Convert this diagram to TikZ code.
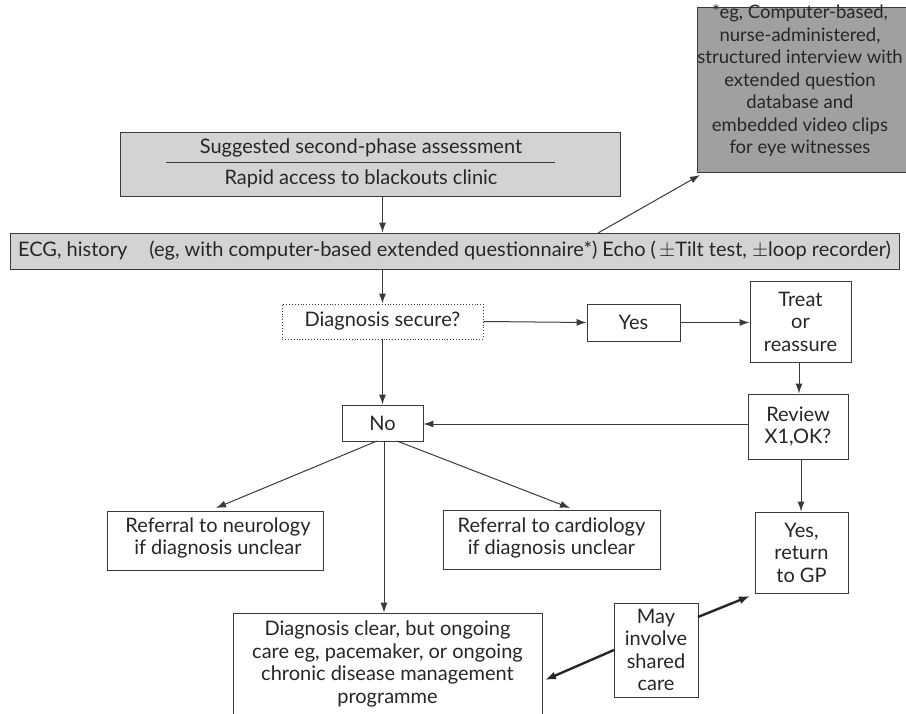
\documentclass[tikz,border=0pt]{standalone}
\usepackage{fontspec}
\setmainfont{Lato}
\usetikzlibrary{arrows.meta,calc}
\definecolor{linecol}{HTML}{3A3A3A}
\definecolor{lightfill}{HTML}{D3D3D5}
\definecolor{darkfill}{HTML}{A0A0A0}
\newcommand{\bodyfont}{\fontsize{20}{22.5}\selectfont}
\newcommand{\notefont}{\fontsize{18.5}{22.5}\selectfont}
\tikzset{
  box/.style={draw=linecol, line width=0.9pt, inner sep=0pt, align=center, font=\bodyfont, text=black!85},
  txt/.style={inner sep=0pt, align=center, font=\bodyfont, text=black!85},
  arr/.style={draw=linecol, line width=1pt, -{Latex[length=10pt,width=7pt]}},
  thickarr/.style={draw=black!85, line width=2.4pt, -{Latex[length=11pt,width=8pt]}}
}
\begin{document}
\begin{tikzpicture}[x=1pt,y=-1pt]
\useasboundingbox (0,0) rectangle (906,714);
\clip (0,0) rectangle (906,714);
% top box
\node[box, fill=lightfill, minimum width=500pt, minimum height=64pt] (top) at (370,164) {};
\node[txt] (t1) at (361,148) {Suggested second-phase assessment};
\node[txt] (t2) at (361,179) {Rapid access to blackouts clinic};
\draw[linecol, line width=0.9pt] (166,162) -- (555,162);
% note box
\node[box, fill=darkfill, minimum width=212pt, minimum height=165pt] (note) at (803,89.5) {};
\node[txt, font=\notefont] (notetext) at (800,81) {*eg, Computer-based,\\nurse-administered,\\structured interview with\\extended question\\database and\\embedded video clips\\for eye witnesses};
% ECG box
\node[box, fill=lightfill, minimum width=889pt, minimum height=36pt] (ecg) at (454.5,251)
  {ECG, history\hspace{1.1em}(eg, with computer-based extended questionnaire*) Echo (\,$\pm$Tilt test, $\pm$loop recorder)};
% decision
\node[box, dotted, minimum width=201pt, minimum height=35pt] (diag) at (382.5,321.5) {Diagnosis secure?};
\node[box, minimum width=93pt, minimum height=37pt] (yes) at (633.5,322.5) {Yes};
\node[box, minimum width=101pt, minimum height=81pt] (treat) at (800.5,321.5) {Treat\\or\\reassure};
\node[box, minimum width=100pt, minimum height=65pt] (review) at (798,426.5) {Review\\X1,OK?};
\node[box, minimum width=81pt, minimum height=36pt] (no) at (382.5,423) {No};
\node[box, minimum width=93pt, minimum height=81pt] (ret) at (801.5,552.5) {Yes,\\return\\to GP};
\node[box, minimum width=216pt, minimum height=59pt] (neuro) at (215,540.5) {};
\node[txt] (neurot) at (218,538) {Referral to neurology\\if diagnosis unclear};
\node[box, minimum width=217pt, minimum height=59pt] (cardio) at (551.5,539.5) {};
\node[txt] (cardiot) at (551.5,538) {Referral to cardiology\\if diagnosis unclear};
\node[box, minimum width=309pt, minimum height=117pt] (clear) at (387.5,671.5) {};
\node[txt] (cleart) at (387.5,664) {Diagnosis clear, but ongoing\\care eg, pacemaker, or ongoing\\chronic disease management\\programme};
\node[box, minimum width=84pt, minimum height=94pt] (may) at (656,650) {May\\involve\\shared\\care};
% coordinates
\coordinate (ecgn) at (598,233);
\coordinate (notetip) at (700,175);
\coordinate (nol) at (377,441);
\coordinate (nor) at (397,441);
\coordinate (neurotip) at (216,508);
\coordinate (cardiotip) at (570,508);
\coordinate (mayl) at (614,650);
\coordinate (cleartip) at (545,680);
\coordinate (mayr) at (698,617);
\coordinate (rettip) at (750,596);
% connectors
\draw[arr] (top.south -| diag.north) -- (ecg.north -| diag.north);
\draw[arr] (ecgn) -- (notetip);
\draw[arr] (ecg.south -| diag.north) -- (diag.north);
\draw[arr] (diag.east) -- (yes.west);
\draw[arr] (yes.east) -- (treat.west |- yes.east);
\draw[arr] (treat.south -| 799,0) -- (review.north -| 799,0);
\draw[arr] (review.west |- 0,424) -- (no.east |- 0,424);
\draw[arr] (review.south -| 801,0) -- (ret.north -| 801,0);
\draw[arr] (diag.south) -- (no.north);
\draw[arr] (nol) -- (neurotip);
\draw[arr] (nor) -- (cardiotip);
\draw[arr] (no.south -| 384,0) -- (clear.north -| 384,0);
\draw[thickarr] (mayl) -- (cleartip);
\draw[thickarr] (mayr) -- (rettip);
\end{tikzpicture}
\end{document}
